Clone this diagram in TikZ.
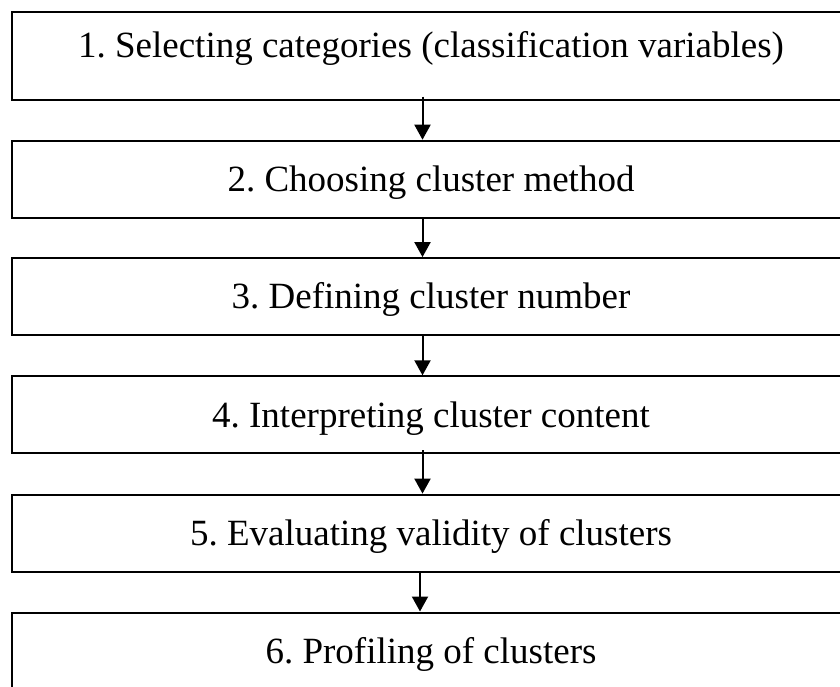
\documentclass[tikz,border=0pt]{standalone}
\usepackage{fontspec}
\setmainfont{Liberation Serif}
\usetikzlibrary{arrows.meta}
\frenchspacing
\begin{document}
\begin{tikzpicture}[x=1pt,y=-1pt,
  stepbox/.style={draw=black,line width=2pt,minimum width=838pt,minimum height=77pt,
    inner sep=0pt,text height=24.5pt,text depth=0pt,font=\fontsize{37}{40}\selectfont\frenchspacing},
  arr/.style={line width=2pt,-{Triangle[length=15pt,width=16pt]}}]
\useasboundingbox (0,0) rectangle (840,686);
\node[stepbox,minimum height=87.5pt,text depth=20.5pt] (b1) at (431,55.75) {1. Selecting categories (classification variables)};
\node[stepbox] (b2) at (431,179.2) {2. Choosing cluster method};
\node[stepbox] (b3) at (431,296.6) {3. Defining cluster number};
\node[stepbox] (b4) at (431,414.8) {4. Interpreting cluster content};
\node[stepbox] (b5) at (431,533.1) {5. Evaluating validity of clusters};
\node[stepbox] (b6) at (431,651) {6. Profiling of clusters};
\draw[arr] ([xshift=-8.5pt,yshift=4pt]b1.south) -- ([xshift=-8.5pt]b2.north);
\draw[arr] ([xshift=-8.5pt]b2.south) -- ([xshift=-8.5pt]b3.north);
\draw[arr] ([xshift=-8.5pt]b3.south) -- ([xshift=-8.5pt]b4.north);
\draw[arr] ([xshift=-8.5pt,yshift=4pt]b4.south) -- ([xshift=-8.5pt]b5.north);
\draw[arr] ([xshift=-11pt]b5.south) -- ([xshift=-11pt]b6.north);
\end{tikzpicture}
\end{document}
